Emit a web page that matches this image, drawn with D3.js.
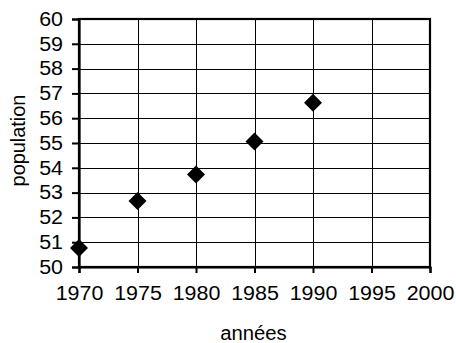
<!DOCTYPE html>
<html>
<head>
<meta charset="utf-8">
<script src="https://cdn.jsdelivr.net/npm/d3@7/dist/d3.min.js"></script>
<style>
  html, body { margin: 0; padding: 0; background: #fff; }
  svg { display: block; }
  text { font-family: Arial, "Liberation Sans", sans-serif; fill: #000; }
</style>
</head>
<body>
<svg id="chart" width="456" height="343"></svg>
<script>
// Population (millions) by year
const years = [1970, 1975, 1980, 1985, 1990];
const population = [50.77, 52.66, 53.73, 55.06, 56.62];
const xTicks = [1970, 1975, 1980, 1985, 1990, 1995, 2000];
const yTicks = [50, 51, 52, 53, 54, 55, 56, 57, 58, 59, 60];
const xTitle = "années";
const yTitle = "population";

const plot = { left: 79, right: 430, top: 19, bottom: 267 };

const svg = d3.select("#chart");

const x = d3.scaleLinear().domain([1970, 2000]).range([plot.left, plot.right]);
const y = d3.scaleLinear().domain([50, 60]).range([plot.bottom, plot.top]);

// widen glyphs slightly (the labels use a broad sans face)
function widen(sel, k) {
  sel.each(function () {
    const len = this.getComputedTextLength();
    d3.select(this).attr("textLength", len * k).attr("lengthAdjust", "spacingAndGlyphs");
  });
}

// gridlines
const grid = svg.append("g");
grid.selectAll("line.h").data(yTicks).join("line")
  .attr("x1", plot.left).attr("x2", plot.right)
  .attr("y1", d => Math.round(y(d)) + 0.5).attr("y2", d => Math.round(y(d)) + 0.5)
  .attr("stroke", "#000").attr("stroke-width", 1);
grid.selectAll("line.v").data(xTicks).join("line")
  .attr("y1", plot.top).attr("y2", plot.bottom)
  .attr("x1", d => Math.round(x(d)) + 0.5).attr("x2", d => Math.round(x(d)) + 0.5)
  .attr("stroke", "#000").attr("stroke-width", 1);

// plot frame
svg.append("rect")
  .attr("x", plot.left).attr("y", plot.top)
  .attr("width", plot.right - plot.left).attr("height", plot.bottom - plot.top)
  .attr("fill", "none").attr("stroke", "#000").attr("stroke-width", 2.2);

// axes
const xAxis = d3.axisBottom(x).tickValues(xTicks).tickFormat(d3.format("d"))
  .tickSize(6).tickPadding(13);
const yAxis = d3.axisLeft(y).tickValues(yTicks).tickFormat(d3.format("d"))
  .tickSize(7).tickPadding(9);

const gx = svg.append("g").attr("transform", `translate(0,${plot.bottom})`).call(xAxis);
const gy = svg.append("g").attr("transform", `translate(${plot.left},0)`).call(yAxis);

[gx, gy].forEach(g => {
  g.select(".domain").attr("stroke", "#000").attr("stroke-width", 2.2);
  g.selectAll(".tick line").attr("stroke", "#000").attr("stroke-width", 2);
  g.selectAll(".tick text").attr("font-size", 19.5).attr("fill", "#000")
    .style("font-family", "Arial, 'Liberation Sans', sans-serif");
});
gx.selectAll(".tick text").attr("dy", "0.71em");
widen(gx.selectAll(".tick text"), 1.1);
widen(gy.selectAll(".tick text"), 1.1);

// markers
const diamond = d3.symbol().type(d3.symbolSquare).size(162);
svg.append("g").selectAll("path").data(years.map((yr, i) => [yr, population[i]])).join("path")
  .attr("d", diamond)
  .attr("transform", d => `translate(${x(d[0])},${y(d[1])}) rotate(45)`)
  .attr("fill", "#000");

// axis titles
const tx = svg.append("text")
  .attr("x", 253.5).attr("y", 340)
  .attr("text-anchor", "middle").attr("font-size", 19.5)
  .text(xTitle);
widen(tx, 1.04);

const ty = svg.append("text")
  .attr("transform", `translate(25,140.5) rotate(-90)`)
  .attr("text-anchor", "middle").attr("font-size", 19.5)
  .text(yTitle);
widen(ty, 1.02);
</script>
</body>
</html>
